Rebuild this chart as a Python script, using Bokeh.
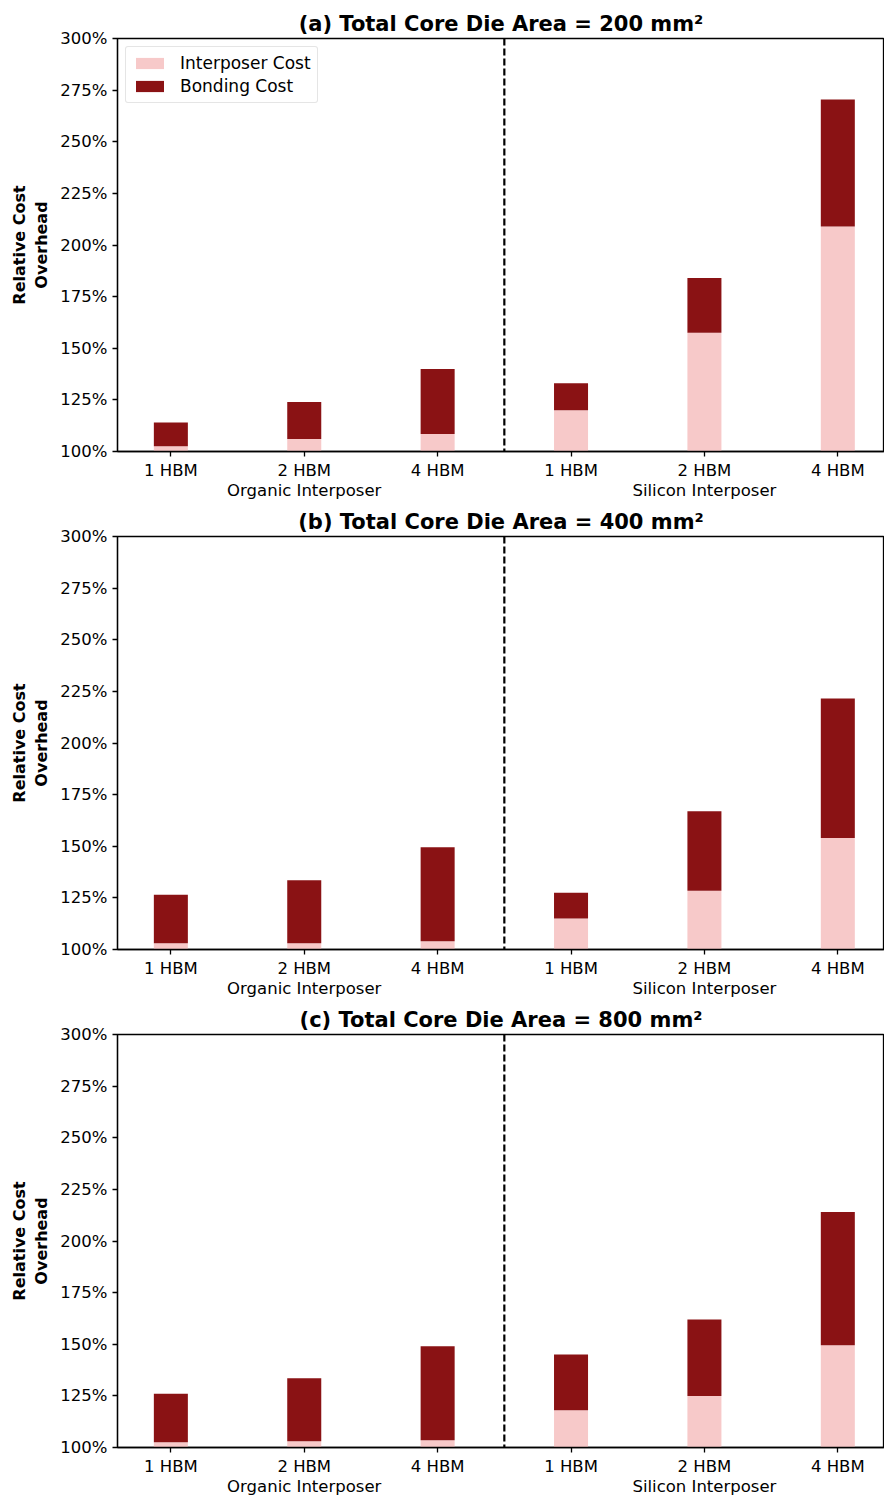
from bokeh.plotting import figure
from bokeh.models import (ColumnDataSource, Span, LinearAxis, FixedTicker,
                          PrintfTickFormatter, Range1d, Legend, LegendItem)
from bokeh.layouts import column
from bokeh.embed import file_html
from bokeh.resources import INLINE

categories = ["1 HBM", "2 HBM", "4 HBM", "1 HBM", "2 HBM", "4 HBM"]
groups = ["Organic Interposer", "Silicon Interposer"]
titles = ["(a) Total Core Die Area = 200 mm\u00b2",
          "(b) Total Core Die Area = 400 mm\u00b2",
          "(c) Total Core Die Area = 800 mm\u00b2"]

# top of interposer segment (%), top of bonding segment (%)
interposer_a = [102.5, 106.0, 108.5, 120.0, 157.5, 209.0]
total_a = [114.0, 124.0, 140.0, 133.0, 184.0, 270.5]
interposer_b = [103.0, 103.0, 104.0, 115.0, 128.5, 154.0]
total_b = [126.5, 133.5, 149.5, 127.5, 167.0, 221.5]
interposer_c = [102.5, 103.0, 103.5, 118.0, 125.0, 149.5]
total_c = [126.0, 133.5, 149.0, 145.0, 162.0, 214.0]

base = 100.0
y_ticks = [100, 125, 150, 175, 200, 225, 250, 275, 300]

PINK = "#f7c9c9"
RED = "#8a1214"
FONT = "DejaVu Sans"

panels = [(titles[0], interposer_a, total_a),
          (titles[1], interposer_b, total_b),
          (titles[2], interposer_c, total_c)]

tops = [38, 31, 31]
bots = [53, 53, 52]

figs = []
for i, (title, inter, total) in enumerate(panels):
    x = list(range(len(categories)))
    src = ColumnDataSource(dict(x=x, base=[base] * len(x), inter=inter, total=total))
    top_b = tops[i]
    bot_b = bots[i]
    p = figure(output_backend="svg", toolbar_location=None,
               width=884, height=top_b + 413 + bot_b,
               x_range=Range1d(-0.4, 5.35), y_range=Range1d(100, 300),
               min_border_left=117, min_border_right=0,
               min_border_top=top_b, min_border_bottom=bot_b,
               title=title)
    p.frame_height = 413
    p.frame_width = 767
    p.title.align = "center"
    p.title.text_font = FONT
    p.title.text_font_size = "21px"
    p.title.text_font_style = "bold"
    p.title.text_color = "black"
    p.title.standoff = 6

    r1 = p.vbar(x="x", bottom="base", top="inter", width=0.255, source=src,
                fill_color=PINK, line_color=None)
    r2 = p.vbar(x="x", bottom="inter", top="total", width=0.255, source=src,
                fill_color=RED, line_color=None)

    p.add_layout(Span(location=2.5, dimension="height", line_color="black",
                      line_width=2.2, line_dash="7 3"))

    p.grid.visible = False
    p.outline_line_color = "black"
    p.outline_line_width = 1.3

    # y axis
    ya = p.yaxis[0]
    ya.ticker = FixedTicker(ticks=y_ticks)
    ya.formatter = PrintfTickFormatter(format="%d%%")
    ya.axis_label = "Relative Cost\nOverhead"
    ya.axis_label_text_font = FONT
    ya.axis_label_text_font_style = "bold"
    ya.axis_label_text_font_size = "16px"
    ya.axis_label_text_color = "black"
    ya.axis_label_standoff = 6
    ya.major_label_text_font = FONT
    ya.major_label_text_font_size = "16.5px"
    ya.major_label_standoff = 5

    # x axis (categories)
    xa = p.xaxis[0]
    xa.ticker = FixedTicker(ticks=x)
    xa.major_label_overrides = {k: c for k, c in enumerate(categories)}
    xa.major_label_text_font = FONT
    xa.major_label_text_font_size = "16.5px"
    xa.major_label_standoff = 4

    for ax in (ya, xa):
        ax.axis_line_color = "black"
        ax.axis_line_width = 1.3
        ax.major_tick_line_color = "black"
        ax.major_tick_line_width = 1.3
        ax.major_tick_out = 5
        ax.major_tick_in = 0
        ax.minor_tick_line_color = None
        ax.major_label_text_color = "black"

    # group labels below
    ga = LinearAxis(ticker=FixedTicker(ticks=[1, 4]),
                    major_label_overrides={1: groups[0], 4: groups[1]})
    ga.axis_line_color = None
    ga.major_tick_line_color = None
    ga.minor_tick_line_color = None
    ga.major_tick_out = 0
    ga.major_tick_in = 0
    ga.major_label_standoff = -2
    ga.major_label_text_font = FONT
    ga.major_label_text_font_size = "16.5px"
    ga.major_label_text_color = "black"
    p.add_layout(ga, "below")

    if i == 0:
        legend = Legend(items=[LegendItem(label="Interposer Cost", renderers=[r1]),
                               LegendItem(label="Bonding Cost", renderers=[r2])],
                        location="top_left")
        legend.margin = 8
        legend.padding = 6
        legend.spacing = 3
        legend.glyph_width = 35
        legend.glyph_height = 14
        legend.label_text_font = FONT
        legend.label_text_font_size = "17px"
        legend.label_text_color = "black"
        legend.label_standoff = 13
        legend.border_line_color = "#cccccc"
        legend.border_line_width = 1
        legend.background_fill_alpha = 0.8
        legend.border_radius = 3
        p.add_layout(legend, "center")

    figs.append(p)

layout = column(*figs, spacing=0)
open("out.html", "w").write(file_html(layout, INLINE))
